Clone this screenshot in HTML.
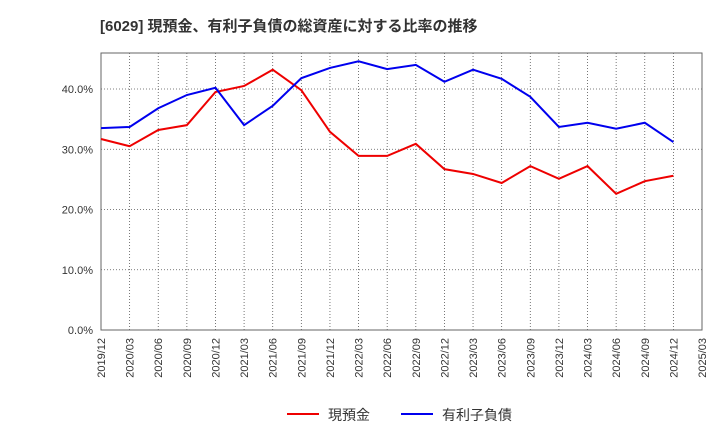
<!DOCTYPE html>
<html><head><meta charset="utf-8"><style>
body{margin:0;background:#fff;font-family:"Liberation Sans","Noto Sans CJK JP",sans-serif}
</style></head><body>
<svg id="c" width="720" height="440" xmlns="http://www.w3.org/2000/svg">
<text x="100" y="31" font-size="15" font-weight="bold" fill="#333" font-family="Liberation Sans, Noto Sans CJK JP, sans-serif">[6029]  現預金、有利子負債の総資産に対する比率の推移</text>
<g id="grid"></g><g id="axes"></g><g id="series"></g>
<g>
<line x1="287" y1="414" x2="319" y2="414" stroke="#e00" stroke-width="2"/>
<text x="328" y="420" font-size="14" fill="#333">現預金</text>
<line x1="401" y1="414" x2="433" y2="414" stroke="#00e" stroke-width="2"/>
<text x="442" y="420" font-size="14" fill="#333">有利子負債</text>
</g>
</svg>
<script>
const categories=["2019/12","2020/03","2020/06","2020/09","2020/12","2021/03","2021/06","2021/09","2021/12","2022/03","2022/06","2022/09","2022/12","2023/03","2023/06","2023/09","2023/12","2024/03","2024/06","2024/09","2024/12","2025/03"];
const cash=[31.7,30.5,33.2,34.0,39.5,40.5,43.2,39.8,32.9,28.9,28.9,30.9,26.7,25.9,24.4,27.2,25.1,27.2,22.6,24.7,25.6];
const debt=[33.5,33.7,36.8,39.0,40.2,34.0,37.2,41.8,43.5,44.6,43.3,44.0,41.2,43.2,41.7,38.7,33.7,34.4,33.4,34.4,31.2];
const yTicks=[0,10,20,30,40];
const yTickLabels=["0.0%","10.0%","20.0%","30.0%","40.0%"];
const L=101,R=702,T=53,B=330,yMax=(330-53)/6.025;
const x=i=>L+i*(R-L)/(categories.length-1);
const y=v=>B-v/yMax*(B-T);
const NS="http://www.w3.org/2000/svg";
function mk(p,tag,a){const e=document.createElementNS(NS,tag);for(const k in a)e.setAttribute(k,a[k]);document.getElementById(p).appendChild(e);return e;}
categories.forEach((c,i)=>{
 const g=mk('grid','line',{x1:x(i),x2:x(i),y1:T,y2:B,stroke:'#555','stroke-width':0.8,'stroke-dasharray':'1,2'});
 
 
 const t=mk('axes','text',{x:0,y:0,'font-size':11,fill:'#333','text-anchor':'end',transform:`translate(${x(i)+4},${B+8}) rotate(-90)`});
 t.textContent=c;
 
 
});
yTicks.forEach((v,i)=>{
 const g=mk('grid','line',{x1:L,x2:R,y1:y(v),y2:y(v),stroke:'#555','stroke-width':0.8,'stroke-dasharray':'1,2'});
 
 
 const t=mk('axes','text',{x:L-8,y:y(v)+4,'font-size':11,fill:'#333','text-anchor':'end'});
 t.textContent=yTickLabels[i];
 
 
});
const f=mk('axes','rect',{x:L,y:T,width:R-L,height:B-T,fill:'none',stroke:'#666','stroke-width':1});


function line(d,col,name){
 const p=mk('series','polyline',{points:d.map((v,i)=>x(i)+','+y(v)).join(' '),fill:'none',stroke:col,'stroke-width':2});
 
 
}
line(cash,'#e00','cash-line');
line(debt,'#00e','debt-line');
</script>
</body></html>
